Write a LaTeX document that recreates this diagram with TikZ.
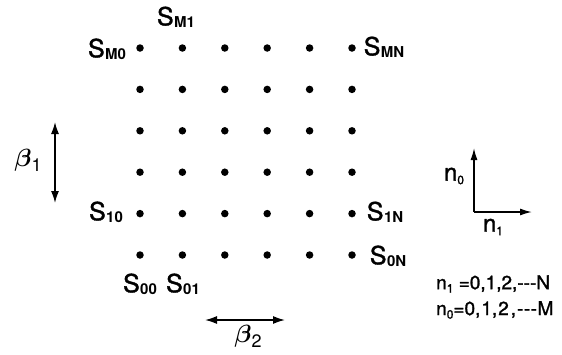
\documentclass[tikz,border=0pt]{standalone}
\usepackage{fontspec}
\setmainfont{TeX Gyre Heros}[BoldFont={TeX Gyre Heros},BoldFeatures={FakeBold=1.4}]
\newfontfamily\subfont{TeX Gyre Heros}[BoldFont={TeX Gyre Heros Bold}]
\usetikzlibrary{arrows.meta}
\newcommand{\Slab}[1]{S\kern0.5pt\raisebox{-2pt}{\subfont\fontsize{15}{15}\selectfont\bfseries #1}}
\newcommand{\nsub}[1]{n\raisebox{-3.5pt}{\fontsize{12}{12}\selectfont #1}}
\newcommand{\betalab}[1]{{\boldmath$\beta$}\raisebox{-5pt}{\fontsize{18}{18}\selectfont #1}}
\begin{document}
\begin{tikzpicture}[x=1pt,y=-1pt,
  dot/.style={circle,fill=black,inner sep=0pt,minimum size=7.5pt},
  lab/.style={inner sep=0pt,font=\fontsize{25}{25}\selectfont\bfseries},
  nlab/.style={inner sep=0pt,font=\fontsize{24}{24}\selectfont\bfseries},
  blab/.style={inner sep=0pt,font=\fontsize{29}{29}\selectfont},
  leg/.style={inner sep=0pt,anchor=west,font=\fontsize{19}{19}\selectfont\bfseries},
  dbl/.style={line width=1.5pt,{Latex[length=12pt,width=8pt]}-{Latex[length=12pt,width=8pt]}},
  ax/.style={line width=1.5pt,-{Latex[length=12pt,width=7pt]}}]
\useasboundingbox (0,0) rectangle (562,354);
\fill[white] (0,0) rectangle (562,354);
\foreach \i in {0,...,5}
  \foreach \j in {0,...,5}
    \node[dot] (d\i\j) at ({140+42.4*\j},{48+41.4*\i}) {};
% grid labels
\node[lab] (sm0) at (107,49) {\Slab{M0}};
\node[lab] (sm1) at (176,17) {\Slab{M1}};
\node[lab] (smn) at (384,47) {\Slab{MN}};
\node[lab] (s10) at (106,212) {\Slab{10}};
\node[lab] (s1n) at (385,212) {\Slab{1N}};
\node[lab] (s0n) at (388,256) {\Slab{0N}};
\node[lab] (s00) at (140,284) {\Slab{00}};
\node[lab] (s01) at (183,284) {\Slab{01}};
% beta arrows
\coordinate (b1t) at (55,122);
\coordinate (b1b) at (55,203);
\draw[dbl] (b1t) -- (b1b);
\node[blab] (beta1) at (28,160) {\betalab{1}};
\coordinate (b2l) at (205,320);
\coordinate (b2r) at (285,320);
\draw[dbl] (b2l) -- (b2r);
\node[blab] (beta2) at (248,336) {\betalab{2}};
% axes
\coordinate (o) at (474,212);
\coordinate (yt) at (474,148);
\coordinate (xt) at (532,212);
\draw[ax] (o) -- (yt);
\draw[ax] (o) -- (xt);
\node[nlab] (n0) at (454,176) {\nsub{0}};
\node[nlab] (n1) at (493,227) {\nsub{1}};
% legend
\node[leg] (l1) at (436,284) {\nsub{1} =0,1,2,-{}-{}-N};
\node[leg] (l2) at (436,310) {\nsub{0}=0,\kern1pt1,\kern1pt2\kern2pt,\kern1pt-{}\kern0.5pt-{}\kern0.5pt-\kern0.5pt M};
\end{tikzpicture}
\end{document}
